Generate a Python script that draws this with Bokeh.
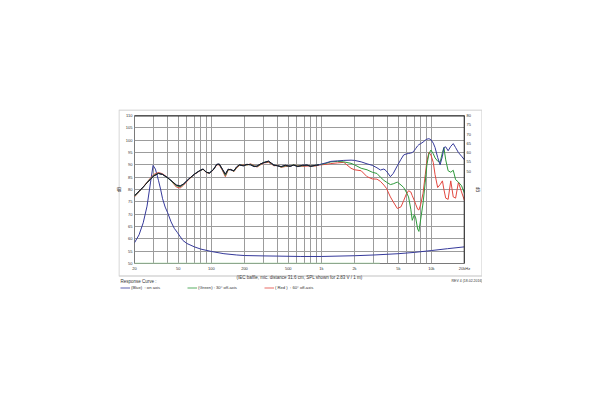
from bokeh.plotting import figure
from bokeh.models import Range1d, LinearAxis, FixedTicker, Label, Span, Legend, LegendItem, BoxAnnotation
from bokeh.core.properties import value
from bokeh.embed import file_html
from bokeh.resources import INLINE

# ---------------- data ----------------
freq = [20, 22, 24, 26, 28, 30, 33, 36, 40, 44, 48, 52, 56, 62, 70, 78, 84, 90, 96, 104,
        112, 118, 126, 134, 142, 150, 160, 170, 180, 195, 210, 227, 245, 260, 280, 300,
        330, 350, 370, 400, 430, 470, 520, 560, 610, 670, 740, 800, 880, 950,
        1000, 1100, 1220, 1400, 1600, 1860, 2000, 2300, 2600, 2900, 3200, 3440, 3700,
        3900, 4240, 4500, 4900, 5300, 5600, 5900, 6200, 6500, 6700, 7000, 7200, 7500,
        7700, 8000, 8400, 8800, 9100, 9500, 9900, 10400, 10800, 11400, 12000, 12600,
        13000, 13500, 14200, 15000, 15800, 16600, 17600, 18800, 20000]

spl_blue = [77.5, 79.3, 81.0, 82.7, 84.2, 85.5, 86.5, 86.1, 84.8, 83.3, 81.8, 81.4, 82.3,
            84.2, 86.2, 87.6, 88.3, 87.0, 86.7, 88.0, 90.2, 90.3, 88.2, 86.2, 88.2, 88.0,
            87.6, 89.2, 90.0, 89.6, 90.2, 90.0, 89.3, 89.5, 90.4, 90.9, 91.5, 90.7, 89.9,
            89.6, 89.3, 89.8, 89.4, 89.9, 89.3, 89.8, 89.9, 89.4, 89.8, 90.0,
            90.3, 90.8, 91.4, 91.6, 91.8, 91.9, 91.8, 91.2, 90.4, 89.8, 88.8, 87.9, 88.3,
            87.5, 85.2, 86.5, 89.6, 92.3, 94.0, 94.4, 94.6, 94.8, 95.0, 95.8, 96.6, 97.7,
            98.2, 98.6, 99.2, 100.0, 100.4, 100.6, 100.2, 98.8, 97.0, 93.0, 90.0, 93.5,
            97.0, 97.3, 95.7, 97.5, 98.6, 97.0, 95.0, 93.5, 92.0]

spl_green = [77.3, 79.2, 81.0, 82.8, 84.4, 85.7, 86.6, 86.1, 84.7, 83.1, 81.5, 81.1, 82.1,
             84.1, 86.2, 87.6, 88.2, 87.0, 86.6, 88.0, 90.1, 90.2, 88.0, 85.7, 88.0, 88.1,
             87.4, 89.0, 89.9, 89.8, 90.0, 90.2, 89.5, 89.3, 90.2, 91.0, 91.3, 90.6, 89.8,
             89.7, 89.1, 89.6, 89.5, 90.0, 89.5, 89.6, 89.8, 89.5, 89.7, 90.1,
             90.2, 90.6, 91.2, 91.4, 91.2, 90.6, 90.0, 88.6, 88.0, 87.0, 86.5, 85.0, 83.7,
             83.0, 82.0, 82.3, 83.0, 81.8, 80.8, 79.0, 77.0, 72.0, 67.5, 69.8, 68.5, 64.0,
             63.0, 68.0, 74.5, 83.0, 90.0, 94.5, 96.0, 94.5, 92.8, 91.5, 91.0, 95.0,
             97.0, 92.0, 87.6, 87.0, 87.8, 84.0, 83.0, 81.5, 78.5]

spl_red = [77.0, 79.0, 81.0, 83.0, 84.7, 86.1, 86.9, 86.4, 84.8, 83.0, 81.0, 80.6, 81.8,
           84.0, 86.1, 87.5, 88.2, 86.9, 86.5, 87.9, 90.0, 90.0, 87.7, 85.2, 87.8, 88.2,
           87.2, 88.8, 89.7, 90.0, 89.9, 90.4, 89.7, 89.1, 90.0, 90.8, 91.0, 90.4, 89.6,
           89.8, 89.0, 89.3, 89.6, 89.9, 89.7, 89.4, 89.5, 89.6, 89.5, 89.9,
           90.0, 90.2, 90.5, 90.8, 91.0, 88.6, 88.0, 87.6, 85.2, 84.3, 84.2, 83.3, 81.8,
           80.5, 77.0, 75.0, 72.3, 73.0, 75.5, 78.0, 79.5, 79.0, 77.5, 75.5, 74.0, 72.0,
           71.7, 74.0, 78.5, 86.0, 91.5, 95.0, 94.0, 91.0, 86.0, 80.8, 82.0, 83.5,
           80.0, 76.5, 76.0, 83.5, 77.0, 76.5, 82.9, 79.0, 75.5]

imp_freq = [20, 22, 24, 26, 28, 29.5, 31, 33, 34.5, 36, 38, 40, 43, 46, 49, 55, 60, 70,
            80, 100, 130, 170, 200, 300, 400, 650, 1000, 2000, 3000, 5000, 7000, 10000,
            14000, 20000]
imp_ohm = [11.2, 15.5, 22.0, 31.0, 44.0, 53.0, 51.0, 45.0, 40.3, 35.0, 30.5, 27.5, 22.5,
           19.0, 16.8, 12.5, 10.8, 9.0, 7.8, 6.5, 5.3, 4.6, 4.3, 4.1, 4.0, 3.8, 3.8, 4.2,
           4.6, 5.3, 6.0, 7.0, 8.0, 9.0]

floor_f = [20, 3400]
floor_db = [50, 50]

x_ticks = [20, 50, 100, 200, 500, 1000, 2000, 5000, 10000, 20000]
x_tick_labels = ["20", "50", "100", "200", "500", "1k", "2k", "5k", "10k", "20kHz"]
grid_f = [20, 30, 40, 50, 60, 70, 80, 90, 100, 200, 300, 400, 500, 600, 700, 800, 900,
          1000, 2000, 3000, 4000, 5000, 6000, 7000, 8000, 9000, 10000, 20000]
db_ticks = [50, 55, 60, 65, 70, 75, 80, 85, 90, 95, 100, 105, 110]
ohm_tick_labels = ["0", "7", "13", "20", "27", "33", "40", "47", "53", "60", "67", "73", "80"]

legend_names = ["(Blue)  : on axis", "(Green) : 30\u00b0 off-axis", "( Red )  : 60\u00b0 off-axis"]
# legend sample renderers live outside the visible range of the overlay
legend_dummy_x = [-20, -10]
legend_dummy_y = [-20, -20]

BLUE = "#35399a"
GREEN = "#2f9a3c"
RED = "#e2473f"
FONT = "Liberation Sans"
TXT = "#333333"

# ---------------- main chart ----------------
p = figure(width=376, height=180, x_axis_type="log",
           x_range=Range1d(20, 20000), y_range=Range1d(50, 110),
           output_backend="svg", toolbar_location=None,
           min_border_left=22, min_border_right=24,
           min_border_top=12, min_border_bottom=20,
           styles={"position": "absolute", "left": "112px", "top": "103px"})
p.title.visible = False
p.background_fill_color = "white"
p.border_fill_color = "white"
p.outline_line_color = "#7a7a7a"
p.outline_line_width = 1

p.extra_y_ranges = {"ohm": Range1d(0, 80)}
ohm_ticks = [i * 80 / 12 for i in range(len(ohm_tick_labels))]
rax = LinearAxis(y_range_name="ohm", ticker=FixedTicker(ticks=ohm_ticks),
                 major_label_overrides={t: l for t, l in zip(ohm_ticks, ohm_tick_labels)},
                 axis_label="Ohm")
p.add_layout(rax, "right")

p.xaxis.ticker = FixedTicker(ticks=x_ticks)
p.xaxis.major_label_overrides = {t: l for t, l in zip(x_ticks, x_tick_labels)}
p.xaxis.axis_label = "(IEC baffle, mic. distance 31.6 cm, SPL shown for 2.83 V / 1 m)"
p.yaxis.ticker = FixedTicker(ticks=db_ticks)
p.yaxis.axis_label = "dB"

for ax in p.axis:
    ax.axis_line_color = None
    ax.major_tick_line_color = None
    ax.minor_tick_line_color = None
    ax.major_tick_out = 0
    ax.major_tick_in = 0
    ax.major_label_text_font = FONT
    ax.major_label_text_font_size = "4px"
    ax.major_label_text_color = TXT
    ax.major_label_standoff = 2
    ax.axis_label_text_font = FONT
    ax.axis_label_text_font_size = "4.5px"
    ax.axis_label_text_font_style = "normal"
    ax.axis_label_text_color = TXT
    ax.axis_label_standoff = 1

p.xgrid.ticker = FixedTicker(ticks=grid_f)
p.ygrid.ticker = FixedTicker(ticks=db_ticks)
p.xgrid.grid_line_color = "#9c9c9c"
p.ygrid.grid_line_color = "#9c9c9c"

p.add_layout(Span(location=110, dimension="width", line_color="#333333", line_width=2))
p.add_layout(Span(location=20000, dimension="height", line_color="#111111", line_width=1.5))

p.line(floor_f, floor_db, line_color="#9fd39f", line_width=1.5)
p.line(imp_freq, imp_ohm, y_range_name="ohm", line_color=BLUE, line_width=1)
p.line(freq, spl_red, line_color=RED, line_width=1)
p.line(freq, spl_green, line_color=GREEN, line_width=1)
p.line(freq, spl_blue, line_color=BLUE, line_width=1)
n_lo = 50
p.line(freq[:n_lo], spl_blue[:n_lo], line_color="#1a1a1a", line_width=1)

# ------- transparent overlay: outer box, caption, legend, revision -------
q = figure(width=364, height=183, x_range=Range1d(0, 364), y_range=Range1d(0, 183),
           output_backend="svg", toolbar_location=None,
           x_axis_location=None, y_axis_location=None,
           min_border=0, min_border_left=0, min_border_right=0,
           min_border_top=0, min_border_bottom=0,
           styles={"position": "absolute", "left": "118px", "top": "109px",
                   "pointer-events": "none"})
q.title.visible = False
q.grid.visible = False
q.outline_line_color = None
q.background_fill_alpha = 0
q.border_fill_alpha = 0

q.add_layout(BoxAnnotation(left=0.5, right=363.5, bottom=16.5, top=182.5,
                           fill_color=None, fill_alpha=0,
                           line_color="#777777", line_width=1.3))

q.add_layout(Label(x=2, y=11, text="Response Curve :", text_font=FONT,
                   text_font_size="4.5px", text_color=TXT, text_baseline="middle"))
q.add_layout(Label(x=364, y=11.5, text="REV 4 (18.02.2016)", text_font=FONT,
                   text_font_size="3.5px", text_color=TXT, text_baseline="middle",
                   text_align="right"))

items = []
for lc, name in zip([BLUE, GREEN, RED], legend_names):
    r = q.line(legend_dummy_x, legend_dummy_y, line_color=lc, line_width=1, line_alpha=0.8)
    items.append(LegendItem(label=value(name), renderers=[r]))
leg = Legend(items=items, orientation="horizontal", location=(2, 2.5),
             padding=0, margin=0, spacing=27, glyph_width=10, glyph_height=5,
             label_height=5, label_standoff=1, label_text_font=FONT,
             label_text_font_size="4.2px", label_text_color=TXT,
             border_line_color=None, background_fill_alpha=0)
q.add_layout(leg)

open("out.html", "w").write(file_html([p, q], INLINE))
